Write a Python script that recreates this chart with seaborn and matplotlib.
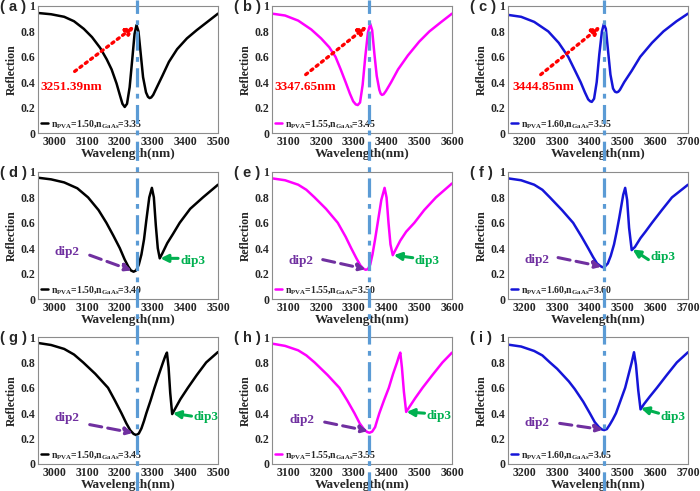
import numpy as np
import pandas as pd
import matplotlib
matplotlib.use("Agg")
import matplotlib.pyplot as plt
import seaborn as sns
from matplotlib.lines import Line2D
from matplotlib.transforms import blended_transform_factory

# Spettri di riflessione (9 pannelli)
wl_a = [2950, 2990, 3030, 3060, 3090, 3115, 3140, 3160, 3175, 3190, 3200, 3208, 3215, 3222, 3230, 3238, 3245, 3251, 3257, 3264, 3271, 3280, 3286, 3291, 3296, 3302, 3315, 3330, 3350, 3375, 3405, 3435, 3470, 3500]
R_a = [0.945, 0.935, 0.915, 0.88, 0.82, 0.755, 0.67, 0.58, 0.50, 0.39, 0.30, 0.23, 0.205, 0.23, 0.36, 0.58, 0.78, 0.85, 0.80, 0.62, 0.44, 0.32, 0.285, 0.275, 0.28, 0.30, 0.37, 0.45, 0.56, 0.66, 0.745, 0.81, 0.88, 0.94]

wl_b = [3050, 3090, 3130, 3170, 3200, 3225, 3244, 3260, 3275, 3288, 3298, 3306, 3312, 3319, 3327, 3335, 3343, 3350, 3356, 3363, 3370, 3378, 3382, 3386, 3391, 3398, 3414, 3435, 3465, 3500, 3531, 3565, 3600]
R_b = [0.94, 0.925, 0.885, 0.815, 0.745, 0.675, 0.60, 0.50, 0.40, 0.31, 0.25, 0.225, 0.22, 0.24, 0.38, 0.60, 0.79, 0.86, 0.81, 0.62, 0.45, 0.34, 0.31, 0.30, 0.305, 0.33, 0.40, 0.50, 0.61, 0.72, 0.80, 0.87, 0.94]

wl_c = [3150, 3190, 3230, 3273, 3305, 3334, 3355, 3372, 3385, 3395, 3401, 3406, 3413, 3421, 3429, 3437, 3443, 3449, 3456, 3463, 3471, 3477, 3482, 3487, 3492, 3505, 3528, 3554, 3590, 3625, 3665, 3700]
R_c = [0.93, 0.915, 0.875, 0.80, 0.71, 0.60, 0.49, 0.40, 0.32, 0.265, 0.25, 0.245, 0.27, 0.40, 0.62, 0.80, 0.86, 0.82, 0.64, 0.46, 0.35, 0.325, 0.32, 0.325, 0.34, 0.40, 0.49, 0.60, 0.71, 0.80, 0.88, 0.94]

wl_d = [2950, 2990, 3030, 3070, 3103, 3135, 3159, 3180, 3200, 3215, 3226, 3234, 3242, 3250, 3258, 3266, 3274, 3281, 3290, 3298, 3304, 3310, 3316, 3322, 3330, 3345, 3362, 3383, 3415, 3454, 3500]
R_d = [0.955, 0.942, 0.918, 0.872, 0.80, 0.70, 0.60, 0.50, 0.40, 0.31, 0.255, 0.225, 0.215, 0.225, 0.27, 0.35, 0.47, 0.62, 0.80, 0.875, 0.80, 0.58, 0.40, 0.32, 0.36, 0.44, 0.51, 0.60, 0.71, 0.80, 0.90]

wl_e = [3050, 3090, 3130, 3155, 3180, 3215, 3251, 3275, 3292, 3308, 3320, 3329, 3336, 3343, 3350, 3357, 3365, 3373, 3384, 3394, 3400, 3406, 3412, 3419, 3428, 3442, 3460, 3485, 3515, 3551, 3600]
R_e = [0.95, 0.935, 0.90, 0.86, 0.80, 0.71, 0.60, 0.49, 0.40, 0.32, 0.265, 0.24, 0.23, 0.235, 0.27, 0.35, 0.47, 0.60, 0.78, 0.875, 0.80, 0.60, 0.43, 0.345, 0.39, 0.46, 0.53, 0.60, 0.70, 0.80, 0.91]

wl_f = [3150, 3190, 3230, 3255, 3278, 3315, 3349, 3375, 3395, 3410, 3422, 3432, 3439, 3446, 3455, 3464, 3474, 3482, 3490, 3496, 3502, 3508, 3514, 3520, 3528, 3538, 3555, 3570, 3590, 3620, 3651, 3700]
R_f = [0.95, 0.935, 0.90, 0.86, 0.80, 0.70, 0.60, 0.49, 0.40, 0.33, 0.28, 0.26, 0.25, 0.255, 0.28, 0.34, 0.43, 0.53, 0.64, 0.73, 0.82, 0.875, 0.78, 0.56, 0.385, 0.41, 0.48, 0.53, 0.60, 0.70, 0.80, 0.90]

wl_g = [2950, 2990, 3030, 3060, 3088, 3125, 3164, 3185, 3205, 3220, 3232, 3242, 3250, 3258, 3266, 3274, 3281, 3294, 3306, 3320, 3332, 3339, 3344, 3349, 3354, 3360, 3370, 3385, 3408, 3435, 3464, 3500]
R_g = [0.953, 0.937, 0.906, 0.862, 0.80, 0.71, 0.60, 0.50, 0.40, 0.32, 0.265, 0.237, 0.228, 0.24, 0.28, 0.34, 0.40, 0.50, 0.60, 0.71, 0.80, 0.85, 0.877, 0.76, 0.56, 0.393, 0.44, 0.51, 0.60, 0.70, 0.80, 0.882]

wl_h = [3050, 3090, 3130, 3155, 3180, 3220, 3256, 3280, 3302, 3318, 3332, 3341, 3348, 3356, 3365, 3372, 3378, 3392, 3407, 3420, 3432, 3438, 3442, 3447, 3453, 3460, 3470, 3488, 3510, 3540, 3571, 3600]
R_h = [0.948, 0.93, 0.895, 0.855, 0.80, 0.70, 0.60, 0.50, 0.40, 0.32, 0.27, 0.252, 0.246, 0.255, 0.29, 0.35, 0.40, 0.50, 0.60, 0.71, 0.80, 0.85, 0.877, 0.76, 0.57, 0.41, 0.45, 0.52, 0.60, 0.70, 0.80, 0.877]

wl_i = [3150, 3190, 3230, 3255, 3278, 3300, 3318, 3336, 3354, 3380, 3400, 3415, 3428, 3437, 3444, 3452, 3461, 3470, 3480, 3494, 3508, 3518, 3528, 3535, 3541, 3548, 3555, 3565, 3583, 3605, 3635, 3666, 3700]
R_i = [0.94, 0.925, 0.89, 0.855, 0.80, 0.75, 0.70, 0.65, 0.59, 0.49, 0.40, 0.33, 0.29, 0.272, 0.267, 0.275, 0.31, 0.35, 0.40, 0.50, 0.60, 0.70, 0.80, 0.88, 0.78, 0.58, 0.43, 0.47, 0.53, 0.60, 0.70, 0.80, 0.88]

curves = [(wl_a, R_a), (wl_b, R_b), (wl_c, R_c),
          (wl_d, R_d), (wl_e, R_e), (wl_f, R_f),
          (wl_g, R_g), (wl_h, R_h), (wl_i, R_i)]
panel_tags = ["a", "b", "c", "d", "e", "f", "g", "h", "i"]
n_pva = ["1.50", "1.55", "1.60"]
n_gaas = [["3.35", "3.45", "3.55"], ["3.40", "3.50", "3.60"], ["3.45", "3.55", "3.65"]]
peak_wl = [3251.39, 3347.65, 3444.85]
x_lims = [(2950, 3500), (3050, 3600), (3150, 3700)]
x_ticks = [[3000, 3100, 3200, 3300, 3400, 3500],
           [3100, 3200, 3300, 3400, 3500, 3600],
           [3200, 3300, 3400, 3500, 3600, 3700]]
col_colors = ["black", "#ff00ff", "#1515d8"]

# annotazioni: riga 1 (picco), righe 2-3 (dip2 / dip3)
peak_text_xy = [(2958, 0.36), (3058, 0.36), (3163, 0.36)]
peak_arrow_from = [(3062, 0.485), (3153, 0.46), (3250, 0.46)]
peak_arrow_to = [(3245, 0.84), (3340, 0.84), (3433, 0.84)]
dip2_text_xy = [[(3000, 0.37), (3099, 0.30), (3201, 0.31)],
                [(3001, 0.36), (3104, 0.345), (3201, 0.325)]]
dip2_from = [[(3108, 0.345), (3205, 0.31), (3303, 0.326)],
             [(3108, 0.31), (3211, 0.33), (3308, 0.32)]]
dip2_to = [[(3236, 0.225), (3336, 0.235), (3436, 0.255)],
           [(3240, 0.245), (3343, 0.26), (3440, 0.27)]]
dip3_text_xy = [[(3384, 0.30), (3486, 0.30), (3584, 0.33)],
                [(3425, 0.37), (3521, 0.377), (3615, 0.37)]]
dip3_from = [[(3378, 0.32), (3480, 0.325), (3579, 0.31)],
             [(3419, 0.377), (3516, 0.40), (3610, 0.40)]]
dip3_to = [[(3324, 0.32), (3422, 0.345), (3531, 0.39)],
           [(3362, 0.40), (3461, 0.41), (3556, 0.44)]]

sns.set_style("white")
plt.rcParams["font.family"] = ["Liberation Serif", "DejaVu Serif"]
plt.rcParams["font.weight"] = "bold"
plt.rcParams["mathtext.fontset"] = "custom"
plt.rcParams["mathtext.rm"] = "Liberation Serif:bold"
plt.rcParams["mathtext.it"] = "Liberation Serif:bold"
plt.rcParams["mathtext.bf"] = "Liberation Serif:bold"

W, H = 700, 491
fig = plt.figure(figsize=(W / 100, H / 100), dpi=100)

col_left = [38, 272, 508]
row_top = [6, 172, 337]
ax_w, ax_h = 180, 127

purple = "#7030a0"
green = "#00b050"

axes = []
for k, (wl, R) in enumerate(curves):
    r, c = divmod(k, 3)
    ax = fig.add_axes([col_left[c] / W, 1 - (row_top[r] + ax_h) / H, ax_w / W, ax_h / H])
    axes.append(ax)
    df = pd.DataFrame({"wl": wl, "R": R})
    lab = r"n$_{\rm PVA}$=" + n_pva[c] + r",n$_{\rm GaAs}$=" + n_gaas[r][c]
    sns.lineplot(data=df, x="wl", y="R", ax=ax, color=col_colors[c], lw=1.8, label=lab)
    ax.set_xlim(*x_lims[c])
    ax.set_ylim(0, 1)
    ax.set_xticks(x_ticks[c])
    ax.set_xticklabels([str(t) for t in x_ticks[c]], fontsize=8.5, fontweight="bold")
    ax.set_yticks([0, 0.2, 0.4, 0.6, 0.8, 1.0])
    ax.set_yticklabels(["0", "0.2", "0.4", "0.6", "0.8", "1"], fontsize=8.5, fontweight="bold")
    ax.tick_params(length=2, direction="in", pad=2, color="#808080")
    for s in ax.spines.values():
        s.set_color("#8c8c8c")
        s.set_linewidth(0.8)
    ax.set_xlabel("Wavelength(nm)", fontsize=9.5, fontweight="bold", labelpad=0)
    ax.set_ylabel("Reflection", fontsize=8.5, fontweight="bold", labelpad=2)
    ax.legend(loc="lower left", frameon=False, handlelength=0.7, handletextpad=0.25,
              borderaxespad=0.15, borderpad=0.2, prop={"family": "Liberation Serif", "weight": "bold", "size": 7})
    ax.text(-0.212, 0.99, "( " + panel_tags[k] + " )", transform=ax.transAxes, ha="left", va="center",
            fontsize=10.5, fontweight="bold", family="Liberation Sans")

    if r == 0:
        ax.text(*peak_text_xy[c], f"{peak_wl[c]:.2f}nm", color="red", fontsize=9.5, fontweight="bold",
                ha="left", va="center")
        ax.annotate("", xy=peak_arrow_to[c], xytext=peak_arrow_from[c],
                    arrowprops=dict(arrowstyle="-|>", color="red", lw=2.4, linestyle=(0, (0.7, 1.3)),
                                    mutation_scale=12, shrinkA=0, shrinkB=0))
    else:
        q = r - 1
        ax.text(*dip2_text_xy[q][c], "dip2", color=purple, fontsize=9.5, fontweight="bold", ha="left", va="center")
        ax.annotate("", xy=dip2_to[q][c], xytext=dip2_from[q][c],
                    arrowprops=dict(arrowstyle="-|>", color=purple, lw=2.2, linestyle=(0, (4, 2)),
                                    mutation_scale=11, shrinkA=0, shrinkB=0))
        ax.text(*dip3_text_xy[q][c], "dip3", color=green, fontsize=9.5, fontweight="bold", ha="left", va="center")
        ax.annotate("", xy=dip3_to[q][c], xytext=dip3_from[q][c],
                    arrowprops=dict(arrowstyle="-|>", color=green, lw=2.2,
                                    mutation_scale=11, shrinkA=0, shrinkB=0))

# linee verticali tratto-punto attraverso tutta la colonna
for c in range(3):
    ax = axes[c]
    tr = blended_transform_factory(ax.transData, fig.transFigure)
    fig.add_artist(Line2D([peak_wl[c], peak_wl[c]], [0, 1], transform=tr, color="#5b9bd5",
                          lw=2.3, linestyle=(0, (6, 2, 1.5, 2)), zorder=5))

fig.savefig("out.png", dpi=100)
